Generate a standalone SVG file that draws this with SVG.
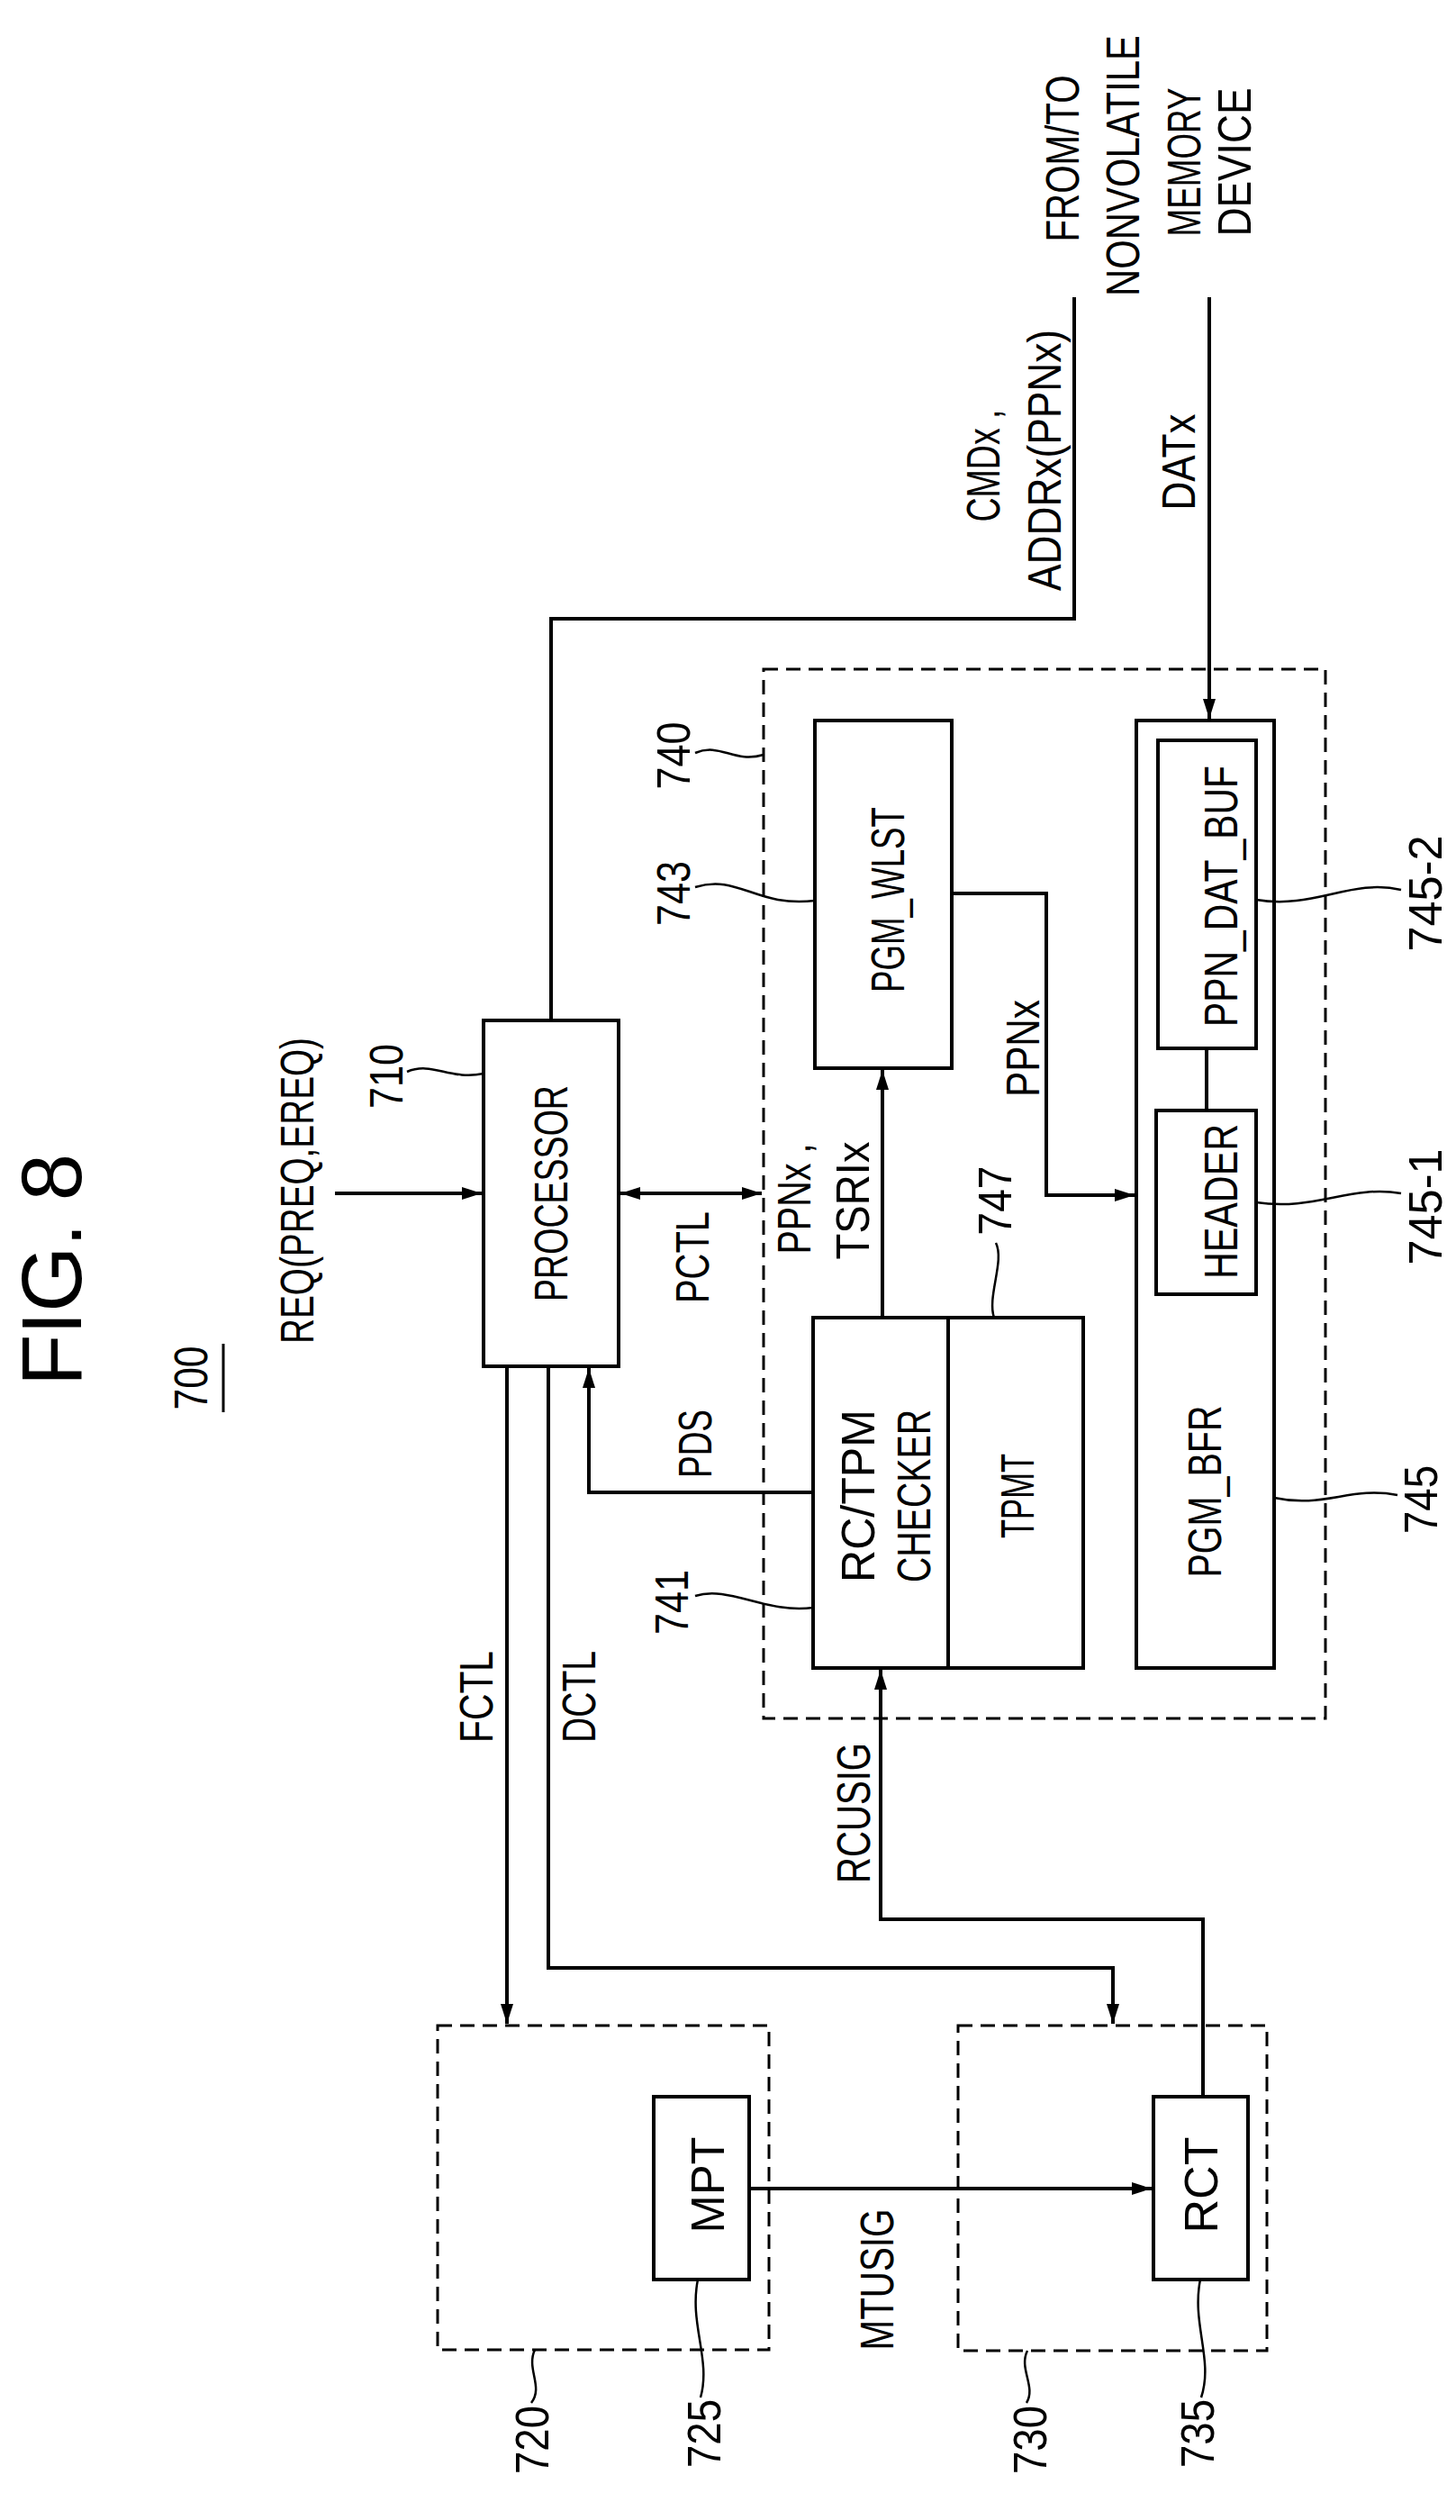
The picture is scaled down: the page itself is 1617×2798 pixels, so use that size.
<svg xmlns="http://www.w3.org/2000/svg" width="1617" height="2798" viewBox="0 0 1617 2798">
<style>
text{font-family:"Liberation Sans",Arial,sans-serif;font-size:52px;fill:#000;text-anchor:middle}
.b{fill:none;stroke:#000;stroke-width:4}
.d{fill:none;stroke:#000;stroke-width:3;stroke-dasharray:16 9}
.c{fill:none;stroke:#000;stroke-width:4}
.l{fill:none;stroke:#000;stroke-width:2.5}
</style>
<defs>
<marker id="a" markerUnits="userSpaceOnUse" markerWidth="24" markerHeight="16" refX="22" refY="8" orient="auto-start-reverse"><path d="M0,1 L22,8 L0,15 Z" fill="#000"/></marker>
</defs>
<rect width="1617" height="2798" fill="#fff"/>
<g id="title">
<text transform="translate(90,1410) rotate(-90)" style="font-size:94px" textLength="258" lengthAdjust="spacing">FIG. 8</text>
<text transform="translate(230,1530) rotate(-90)" textLength="71" lengthAdjust="spacingAndGlyphs">700</text>
<line x1="248" y1="1492" x2="248" y2="1568" stroke="#000" stroke-width="3"/>
</g>
<g id="ext">
<text transform="translate(1198,176) rotate(-90)" textLength="185" lengthAdjust="spacingAndGlyphs">FROM/TO</text>
<text transform="translate(1265,184) rotate(-90)" textLength="290" lengthAdjust="spacingAndGlyphs">NONVOLATILE</text>
<text transform="translate(1333,180) rotate(-90)" textLength="165" lengthAdjust="spacingAndGlyphs">MEMORY</text>
<text transform="translate(1389,180) rotate(-90)" textLength="165" lengthAdjust="spacingAndGlyphs">DEVICE</text>
</g>
<g id="n710">
<rect class="b" x="537" y="1133" width="150" height="384"/>
<text transform="translate(630,1325) rotate(-90)" textLength="240" lengthAdjust="spacingAndGlyphs">PROCESSOR</text>
<text transform="translate(447,1195) rotate(-90)" textLength="72" lengthAdjust="spacingAndGlyphs">710</text>
<path class="l" d="M452,1190 C480,1178 500,1200 537,1192"/>
</g>
<g id="n740">
<rect class="d" x="848" y="743" width="624" height="1165"/>
<text transform="translate(766,839) rotate(-90)" textLength="75" lengthAdjust="spacingAndGlyphs">740</text>
<path class="l" d="M772,836 C800,824 815,848 848,838"/>
</g>
<g id="n743">
<rect class="b" x="905" y="800" width="152" height="386"/>
<text transform="translate(1004,999) rotate(-90)" textLength="206" lengthAdjust="spacingAndGlyphs">PGM_WLST</text>
<text transform="translate(766,992) rotate(-90)" textLength="72" lengthAdjust="spacingAndGlyphs">743</text>
<path class="l" d="M772,985 C820,970 840,1008 905,1000"/>
</g>
<g id="n741">
<rect class="b" x="903" y="1463" width="300" height="389"/>
<line class="b" x1="1053" y1="1463" x2="1053" y2="1852"/>
<text transform="translate(971,1661) rotate(-90)" textLength="192" lengthAdjust="spacingAndGlyphs">RC/TPM</text>
<text transform="translate(1033,1661) rotate(-90)" textLength="192" lengthAdjust="spacingAndGlyphs">CHECKER</text>
<text transform="translate(1148,1661) rotate(-90)" textLength="94" lengthAdjust="spacingAndGlyphs">TPMT</text>
<text transform="translate(764,1779) rotate(-90)" textLength="72" lengthAdjust="spacingAndGlyphs">741</text>
<path class="l" d="M772,1772 C810,1760 850,1792 903,1785"/>
<text transform="translate(1123,1333) rotate(-90)" textLength="77" lengthAdjust="spacingAndGlyphs">747</text>
<path class="l" d="M1106,1380 C1116,1400 1096,1440 1104,1463"/>
</g>
<g id="n745">
<rect class="b" x="1262" y="800" width="153" height="1052"/>
<text transform="translate(1356,1656) rotate(-90)" textLength="191" lengthAdjust="spacingAndGlyphs">PGM_BFR</text>
<text transform="translate(1596,1665) rotate(-90)" textLength="76" lengthAdjust="spacingAndGlyphs">745</text>
<path class="l" d="M1415,1663 C1470,1675 1500,1650 1552,1660"/>
</g>
<g id="n745-2">
<rect class="b" x="1286" y="822" width="109" height="342"/>
<text transform="translate(1374,995) rotate(-90)" textLength="290" lengthAdjust="spacingAndGlyphs">PPN_DAT_BUF</text>
<text transform="translate(1601,992) rotate(-90)" textLength="129" lengthAdjust="spacingAndGlyphs">745-2</text>
<path class="l" d="M1395,999 C1460,1010 1500,975 1556,988"/>
</g>
<g id="n745-1">
<rect class="b" x="1284" y="1233" width="111" height="204"/>
<text transform="translate(1374,1334) rotate(-90)" textLength="172" lengthAdjust="spacingAndGlyphs">HEADER</text>
<text transform="translate(1601,1340) rotate(-90)" textLength="129" lengthAdjust="spacingAndGlyphs">745-1</text>
<path class="l" d="M1395,1335 C1460,1345 1500,1315 1556,1325"/>
</g>
<g id="n720">
<rect class="d" x="486" y="2249" width="368" height="360"/>
<text transform="translate(609,2709) rotate(-90)" textLength="76" lengthAdjust="spacingAndGlyphs">720</text>
<path class="l" d="M594,2609 C584,2630 604,2650 590,2668"/>
</g>
<g id="n725">
<rect class="b" x="726" y="2328" width="106" height="203"/>
<text transform="translate(804,2426) rotate(-90)" textLength="107" lengthAdjust="spacingAndGlyphs">MPT</text>
<text transform="translate(800,2702) rotate(-90)" textLength="76" lengthAdjust="spacingAndGlyphs">725</text>
<path class="l" d="M775,2531 C765,2580 790,2620 778,2662"/>
</g>
<g id="n730">
<rect class="d" x="1064" y="2249" width="343" height="361"/>
<text transform="translate(1162,2709) rotate(-90)" textLength="76" lengthAdjust="spacingAndGlyphs">730</text>
<path class="l" d="M1141,2610 C1131,2630 1151,2650 1140,2668"/>
</g>
<g id="n735">
<rect class="b" x="1281" y="2328" width="105" height="203"/>
<text transform="translate(1352,2426) rotate(-90)" textLength="107" lengthAdjust="spacingAndGlyphs">RCT</text>
<text transform="translate(1348,2702) rotate(-90)" textLength="76" lengthAdjust="spacingAndGlyphs">735</text>
<path class="l" d="M1333,2531 C1323,2580 1348,2620 1334,2662"/>
</g>
<g id="connectors">
<path class="c" d="M1193,330 V687 H612 V1133"/>
<path class="c" d="M1343,330 V798" marker-end="url(#a)"/>
<path class="c" d="M372,1325 H535" marker-end="url(#a)"/>
<path class="c" d="M689,1325 H846" marker-start="url(#a)" marker-end="url(#a)"/>
<path class="c" d="M563,1517 V2247" marker-end="url(#a)"/>
<path class="c" d="M609,1517 V2185 H1236 V2247" marker-end="url(#a)"/>
<path class="c" d="M903,1657 H654 V1519" marker-end="url(#a)"/>
<path class="c" d="M980,1463 V1188" marker-end="url(#a)"/>
<path class="c" d="M1057,992 H1162 V1327 H1260" marker-end="url(#a)"/>
<path class="c" d="M1336,2328 V2131 H978 V1854" marker-end="url(#a)"/>
<path class="c" d="M832,2430 H1279" marker-end="url(#a)"/>
<path class="c" d="M1340,1164 V1233"/>
</g>
<g id="labels">
<text transform="translate(348,1322) rotate(-90)" textLength="340" lengthAdjust="spacingAndGlyphs">REQ(PREQ,EREQ)</text>
<text transform="translate(787,1396) rotate(-90)" textLength="102" lengthAdjust="spacingAndGlyphs">PCTL</text>
<text transform="translate(900,1331) rotate(-90)" textLength="123" lengthAdjust="spacingAndGlyphs">PPNx ,</text>
<text transform="translate(965,1333) rotate(-90)" textLength="131" lengthAdjust="spacingAndGlyphs">TSRIx</text>
<text transform="translate(1110,517) rotate(-90)" textLength="125" lengthAdjust="spacingAndGlyphs">CMDx ,</text>
<text transform="translate(1178,511) rotate(-90)" textLength="290" lengthAdjust="spacingAndGlyphs">ADDRx(PPNx)</text>
<text transform="translate(1327,513) rotate(-90)" textLength="107" lengthAdjust="spacingAndGlyphs">DATx</text>
<text transform="translate(1154,1164) rotate(-90)" textLength="108" lengthAdjust="spacingAndGlyphs">PPNx</text>
<text transform="translate(790,1603) rotate(-90)" textLength="76" lengthAdjust="spacingAndGlyphs">PDS</text>
<text transform="translate(547,1884) rotate(-90)" textLength="102" lengthAdjust="spacingAndGlyphs">FCTL</text>
<text transform="translate(661,1884) rotate(-90)" textLength="102" lengthAdjust="spacingAndGlyphs">DCTL</text>
<text transform="translate(966,2013) rotate(-90)" textLength="156" lengthAdjust="spacingAndGlyphs">RCUSIG</text>
<text transform="translate(992,2531) rotate(-90)" textLength="157" lengthAdjust="spacingAndGlyphs">MTUSIG</text>
</g>
</svg>
